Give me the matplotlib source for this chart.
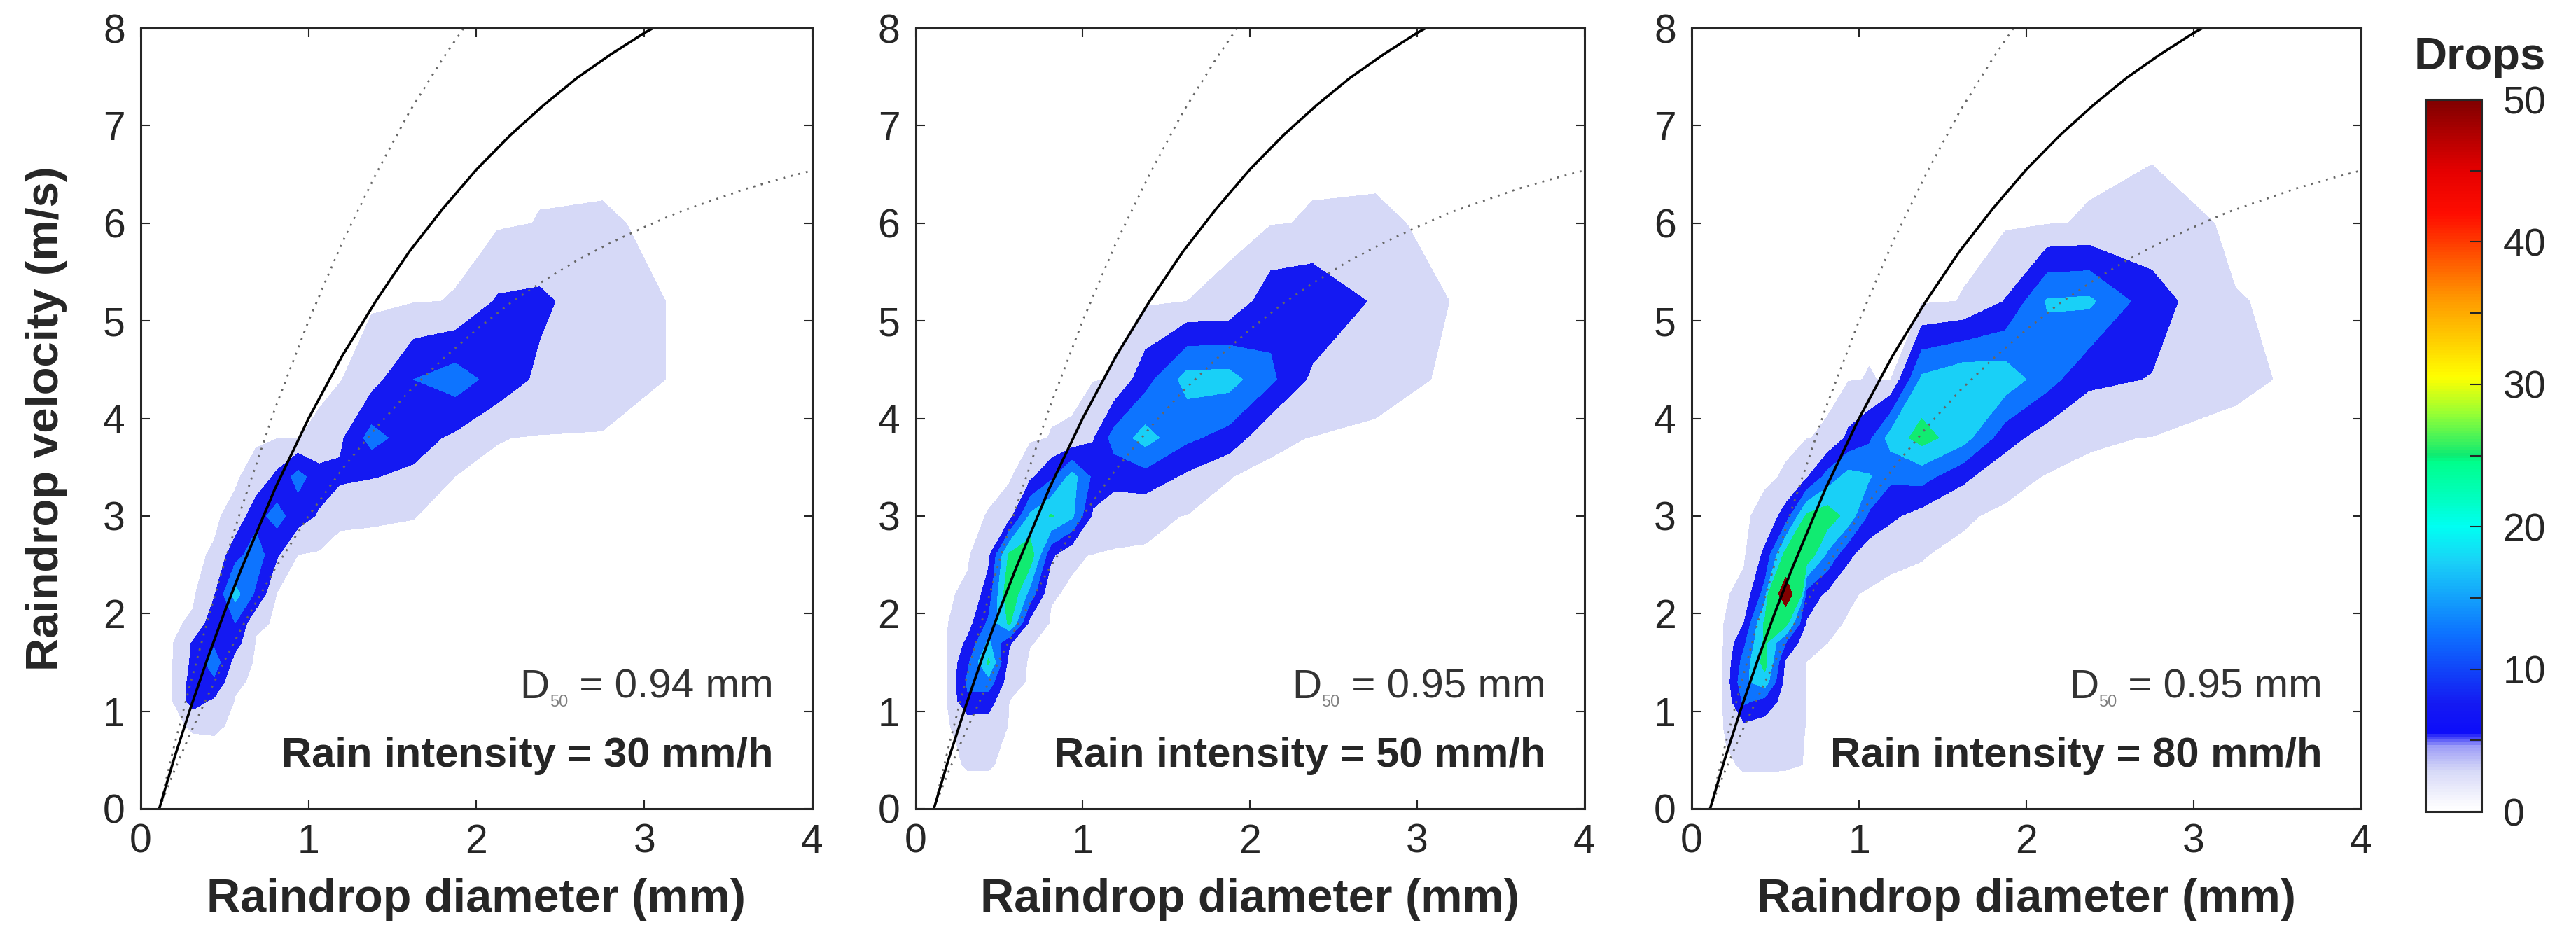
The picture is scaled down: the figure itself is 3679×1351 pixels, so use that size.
import numpy as np
import matplotlib
matplotlib.use("Agg")
import matplotlib.pyplot as plt
from matplotlib.colors import LinearSegmentedColormap, Normalize
from matplotlib.cm import ScalarMappable

plt.rcParams['font.family'] = ['Liberation Sans', 'DejaVu Sans']

# drop size / fall velocity classes (mm, m/s)
diam = [0.062, 0.187, 0.312, 0.437, 0.562, 0.687, 0.812, 0.937, 1.062, 1.187,
        1.375, 1.625, 1.875, 2.125, 2.375, 2.75, 3.25, 3.75]
vel = [0.25, 0.45, 0.65, 0.85, 1.1, 1.3, 1.5, 1.7, 1.9, 2.2, 2.6, 3.0, 3.4, 3.8,
       4.4, 5.2, 6.0, 6.8]

# number of drops per class, one row per velocity class
drops_30 = [
    [0, 0, 0, 0, 0, 0, 0, 0, 0, 0, 0, 0, 0, 0, 0, 0, 0, 0],
    [0, 0, 0, 0, 0, 0, 0, 0, 0, 0, 0, 0, 0, 0, 0, 0, 0, 0],
    [0, 0, 0, 0, 0, 0, 0, 0, 0, 0, 0, 0, 0, 0, 0, 0, 0, 0],
    [0, 0, 0.8, 1.0, 0, 0, 0, 0, 0, 0, 0, 0, 0, 0, 0, 0, 0, 0],
    [0, 0.3, 7, 4, 0.3, 0, 0, 0, 0, 0, 0, 0, 0, 0, 0, 0, 0, 0],
    [0, 0.3, 7, 9, 1, 0, 0, 0, 0, 0, 0, 0, 0, 0, 0, 0, 0, 0],
    [0, 0.3, 6, 13, 3, 0, 0, 0, 0, 0, 0, 0, 0, 0, 0, 0, 0, 0],
    [0, 0.2, 5.5, 9, 7, 0.2, 0, 0, 0, 0, 0, 0, 0, 0, 0, 0, 0, 0],
    [0, 0, 1, 8, 10, 1, 0.2, 0, 0, 0, 0, 0, 0, 0, 0, 0, 0, 0],
    [0, 0, 0, 4.5, 17, 9, 0.3, 0, 0, 0, 0, 0, 0, 0, 0, 0, 0, 0],
    [0, 0, 0, 0.8, 8, 13, 5.5, 0.45, 0, 0, 0, 0, 0, 0, 0, 0, 0, 0],
    [0, 0, 0, 0, 1.5, 8, 12, 7, 4.5, 0.8, 0.7, 0.55, 0, 0, 0, 0, 0, 0],
    [0, 0, 0, 0, 0, 2, 6, 12, 7, 6, 5.2, 4, 0.4, 0, 0, 0, 0, 0],
    [0, 0, 0, 0, 0, 0, 0.4, 0.45, 1, 4, 12, 7, 4, 0.6, 0.3, 0.3, 0, 0],
    [0, 0, 0, 0, 0, 0, 0, 0, 0, 0.3, 3, 10, 12.5, 8, 4, 2, 0, 0],
    [0, 0, 0, 0, 0, 0, 0, 0, 0, 0, 0, 0.3, 0.6, 5.5, 6, 2, 0, 0],
    [0, 0, 0, 0, 0, 0, 0, 0, 0, 0, 0, 0, 0, 0, 0.6, 0.7, 0, 0],
    [0, 0, 0, 0, 0, 0, 0, 0, 0, 0, 0, 0, 0, 0, 0, 0, 0, 0],
]

drops_50 = [
    [0, 0, 0, 0, 0, 0, 0, 0, 0, 0, 0, 0, 0, 0, 0, 0, 0, 0],
    [0, 0, 0.7, 0.7, 0, 0, 0, 0, 0, 0, 0, 0, 0, 0, 0, 0, 0, 0],
    [0, 0, 1.0, 1.2, 0, 0, 0, 0, 0, 0, 0, 0, 0, 0, 0, 0, 0, 0],
    [0, 0.3, 1.5, 3, 0.3, 0, 0, 0, 0, 0, 0, 0, 0, 0, 0, 0, 0, 0],
    [0, 0.45, 9, 7, 0.4, 0, 0, 0, 0, 0, 0, 0, 0, 0, 0, 0, 0, 0],
    [0, 0.45, 11, 13, 2, 0, 0, 0, 0, 0, 0, 0, 0, 0, 0, 0, 0, 0],
    [0, 0.45, 9, 21, 3, 0, 0, 0, 0, 0, 0, 0, 0, 0, 0, 0, 0, 0],
    [0, 0.4, 6, 16, 5.5, 0.6, 0, 0, 0, 0, 0, 0, 0, 0, 0, 0, 0, 0],
    [0, 0.3, 3, 11, 21, 3, 0.2, 0, 0, 0, 0, 0, 0, 0, 0, 0, 0, 0],
    [0, 0, 1.2, 7, 25, 13, 0.7, 0.2, 0, 0, 0, 0, 0, 0, 0, 0, 0, 0],
    [0, 0, 0, 4, 21, 23, 6, 0.8, 0.4, 0.3, 0.3, 0, 0, 0, 0, 0, 0, 0],
    [0, 0, 0, 0.6, 3, 16, 20.5, 16, 4, 1.5, 1, 0.4, 0, 0, 0, 0, 0, 0],
    [0, 0, 0, 0, 0, 4, 9, 17, 9, 7, 8, 4, 0.55, 0, 0, 0, 0, 0],
    [0, 0, 0, 0, 0, 0, 0.6, 0.8, 4.5, 12, 17, 11, 8, 1, 0.4, 0, 0, 0],
    [0, 0, 0, 0, 0, 0, 0, 0, 0.3, 0.7, 8, 17, 17, 11, 4, 1.5, 0, 0],
    [0, 0, 0, 0, 0, 0, 0, 0, 0, 0, 0, 0.5, 1, 8, 9, 4.4, 0, 0],
    [0, 0, 0, 0, 0, 0, 0, 0, 0, 0, 0, 0, 0, 0.3, 0.7, 0.8, 0, 0],
    [0, 0, 0, 0, 0, 0, 0, 0, 0, 0, 0, 0, 0, 0, 0, 0, 0, 0],
]

drops_80 = [
    [0, 0, 0, 0, 0, 0, 0, 0, 0, 0, 0, 0, 0, 0, 0, 0, 0, 0],
    [0, 0, 0.8, 0.8, 0.7, 0.45, 0, 0, 0, 0, 0, 0, 0, 0, 0, 0, 0, 0],
    [0, 0.3, 1.5, 1.5, 0.8, 0.45, 0, 0, 0, 0, 0, 0, 0, 0, 0, 0, 0, 0],
    [0, 0.45, 4, 3, 1.2, 0.45, 0, 0, 0, 0, 0, 0, 0, 0, 0, 0, 0, 0],
    [0, 0.45, 11, 8, 3, 0.45, 0, 0, 0, 0, 0, 0, 0, 0, 0, 0, 0, 0],
    [0, 0.45, 14, 18, 3, 0.45, 0, 0, 0, 0, 0, 0, 0, 0, 0, 0, 0, 0],
    [0, 0.45, 12, 22, 4, 0.45, 0, 0, 0, 0, 0, 0, 0, 0, 0, 0, 0, 0],
    [0, 0.4, 9, 21, 10, 1.5, 0.5, 0, 0, 0, 0, 0, 0, 0, 0, 0, 0, 0],
    [0, 0.3, 5, 21, 22, 4.5, 1, 0.3, 0, 0, 0, 0, 0, 0, 0, 0, 0, 0],
    [0, 0, 1.5, 12, 62, 8, 4, 0.8, 0.2, 0, 0, 0, 0, 0, 0, 0, 0, 0],
    [0, 0, 0, 6, 22, 24, 14, 6, 2, 1, 0.6, 0, 0, 0, 0, 0, 0, 0],
    [0, 0, 0, 1.5, 7, 21, 23, 18, 9, 6, 3, 0.8, 0, 0, 0, 0, 0, 0],
    [0, 0, 0, 0, 0.8, 4.5, 12, 17, 15.5, 11, 12, 6, 1.5, 0.3, 0, 0, 0, 0],
    [0, 0, 0, 0, 0, 0.4, 0.8, 6, 9, 17, 22, 17, 7, 2.5, 0.8, 0.4, 0, 0],
    [0, 0, 0, 0, 0, 0, 0, 0.3, 0.6, 0.3, 16, 19, 18, 12, 6, 4.8, 0.9, 0],
    [0, 0, 0, 0, 0, 0, 0, 0, 0, 0, 0, 0.6, 5.2, 15.5, 16, 7, 0.6, 0],
    [0, 0, 0, 0, 0, 0, 0, 0, 0, 0, 0, 0, 0, 0.3, 0.7, 2, 0, 0],
    [0, 0, 0, 0, 0, 0, 0, 0, 0, 0, 0, 0, 0, 0, 0, 0, 0, 0],
]

d50 = ['0.94', '0.95', '0.95']
intensity = ['30', '50', '80']

# terminal velocity curve and its dotted bounds
curve_d = [0.11, 0.2, 0.3, 0.4, 0.5, 0.6, 0.8, 1.0, 1.2, 1.4, 1.6, 1.8, 2.0,
           2.2, 2.4, 2.6, 2.8, 3.0, 3.2, 3.4, 3.6, 3.8, 4.0]
mid_v = [0.0, 0.52, 1.05, 1.55, 2.02, 2.46, 3.28, 4.00, 4.64, 5.20, 5.71, 6.15,
         6.55, 6.90, 7.21, 7.49, 7.73, 7.95, 8.14, 8.31, 8.46, 8.60, 8.72]
upper_v = [0.0, 0.65, 1.31, 1.94, 2.53, 3.08, 4.10, 5.00, 5.80, 6.50, 7.14, 7.69,
           8.19, 8.63, 9.01, 9.36, 9.66, 9.94, 10.18, 10.39, 10.58, 10.75, 10.90]
lower_v = [0.0, 0.39, 0.79, 1.16, 1.52, 1.85, 2.46, 3.00, 3.48, 3.90, 4.28, 4.61,
           4.91, 5.18, 5.41, 5.62, 5.80, 5.96, 6.11, 6.23, 6.35, 6.45, 6.54]

# colour scale (white -> lavender -> jet)
nodes = [(0, (1, 1, 1)), (1, (0.95, 0.95, 0.99)), (2.75, (0.84, 0.85, 0.97)),
         (4.5, (0.62, 0.62, 0.97)), (5.5, (0.05, 0.05, 0.98)), (7.5, (0.08, 0.1, 0.95)),
         (12.5, (0.05, 0.45, 1.0)), (17.5, (0.1, 0.82, 0.97)), (20, (0.0, 1.0, 0.95)),
         (22, (0.0, 1.0, 0.75)), (24.5, (0.0, 1.0, 0.55)), (25, (0.05, 0.92, 0.45)),
         (28, (0.6, 1.0, 0.2)), (30.5, (1, 1, 0)), (36, (1, 0.6, 0)),
         (42, (1, 0.05, 0)), (45, (0.9, 0, 0)), (50, (0.5, 0, 0))]
cmap = LinearSegmentedColormap.from_list('drops', [(v / 50, c) for v, c in nodes])
norm = Normalize(0, 50)
levels = [0.5, 5, 10, 15, 20, 45, 1000]
band_colors = [cmap(norm(v)) for v in (2.75, 7.5, 12.5, 17.5, 25, 50)]

W, H = 3679, 1351
fig = plt.figure(figsize=(W / 100, H / 100), dpi=100)

ax_left = [201, 1307.5, 2416]
ax_width = [959, 955, 956]
top, bottom = 40, 1155
dark = '#262626'

for i, counts in enumerate([drops_30, drops_50, drops_80]):
    ax = fig.add_axes([ax_left[i] / W, 1 - bottom / H, ax_width[i] / W, (bottom - top) / H])
    ax.contourf(diam, vel, np.array(counts), levels=levels, colors=band_colors)
    ax.plot(curve_d, upper_v, color='0.4', lw=2, linestyle=(0, (1, 3)))
    ax.plot(curve_d, lower_v, color='0.4', lw=2, linestyle=(0, (1, 3)))
    ax.plot(curve_d, mid_v, color='black', lw=2.6)

    ax.set_xlim(0, 4)
    ax.set_ylim(0, 8)
    ax.set_xticks(range(5))
    ax.set_yticks(range(9))
    ax.tick_params(direction='in', length=9, width=1.5, top=True, right=True,
                   labelsize=41, colors=dark)
    ax.tick_params(axis='x', pad=15)
    ax.tick_params(axis='y', pad=16)
    for s in ax.spines.values():
        s.set_linewidth(2.2)
        s.set_color(dark)

    # D50 label: big D, small grey subscript, then the value
    t_main = ax.text(3.77, 1.136, ' = ' + d50[i] + ' mm', ha='right', va='baseline',
                     fontsize=42, color='#333333')
    t_sub = ax.annotate('50', xy=(0, 0), xycoords=t_main, xytext=(0, -4),
                        textcoords='offset points', ha='right', va='bottom',
                        fontsize=17, color='#808080')
    ax.annotate('D', xy=(0, 0), xycoords=(t_sub, t_main), ha='right', va='bottom',
                fontsize=42, color='#333333')
    ax.text(3.77, 0.43, 'Rain intensity = ' + intensity[i] + ' mm/h', ha='right',
            va='baseline', fontsize=43, fontweight='bold', color=dark)

    ax.set_xlabel('Raindrop diameter (mm)', fontsize=48, fontweight='bold', color=dark)
    ax.xaxis.set_label_coords(0.5, -0.089)
    if i == 0:
        ax.set_ylabel('Raindrop velocity (m/s)', fontsize=47, fontweight='bold', color=dark)
        ax.yaxis.set_label_coords(-0.11, 0.5)

# colour bar
cax = fig.add_axes([3463.5 / W, 1 - 1159 / H, 80.5 / W, (1159 - 142) / H])
cb = fig.colorbar(ScalarMappable(norm=norm, cmap=cmap), cax=cax, ticks=range(0, 51, 10))
cb.outline.set_linewidth(2.2)
cb.outline.set_edgecolor(dark)
cax.set_yticks(range(5, 50, 10), minor=True)
cax.tick_params(which='both', direction='in', length=12, width=1.5, colors=dark,
                labelsize=40, pad=22)
fig.text(3542 / W, 1 - 99 / H, 'Drops', ha='center', va='baseline', fontsize=47,
         fontweight='bold', color=dark)

fig.savefig('out.png', dpi=100)
